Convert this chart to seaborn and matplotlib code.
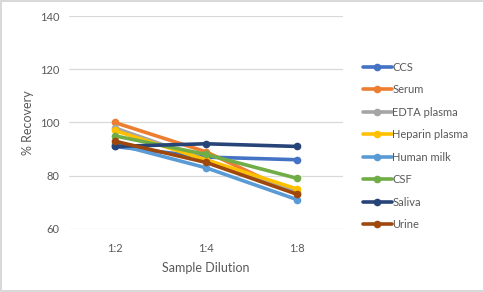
import matplotlib.pyplot as plt
import pandas as pd
import seaborn as sns

dilutions = ["1:2", "1:4", "1:8"]
samples = ["CCS", "Serum", "EDTA plasma", "Heparin plasma", "Human milk", "CSF", "Saliva", "Urine"]
ccs = [91, 87, 86]
serum = [100, 89, 73]
edta = [98, 86, 74]
heparin = [97, 86, 75]
milk = [92, 83, 71]
csf = [95, 88, 79]
saliva = [91, 92, 91]
urine = [93, 85, 73]
colors = ["#4472C4", "#ED7D31", "#A5A5A5", "#FFC000", "#5B9BD5", "#70AD47", "#264478", "#9E480E"]

values = [ccs, serum, edta, heparin, milk, csf, saliva, urine]
rows = []
for name, vals in zip(samples, values):
    for d, v in zip(dilutions, vals):
        rows.append({"Sample": name, "Dilution": d, "Recovery": v})
df = pd.DataFrame(rows)

sns.set_style("white")
plt.rcParams["font.family"] = ["Lato", "DejaVu Sans"]
txt = "#595959"

fig = plt.figure(figsize=(4.85, 2.92), dpi=100)
fig.patch.set_edgecolor("#D9D9D9")
fig.patch.set_linewidth(1.5)
ax = fig.add_axes([0.142, 0.216, 0.565, 0.729])
sns.lineplot(data=df, x="Dilution", y="Recovery", hue="Sample", hue_order=samples,
             palette=colors, marker="o", markersize=5.5, markeredgewidth=0,
             linewidth=2.6, sort=False, ax=ax)

ax.set_ylim(60, 140)
ax.set_yticks([60, 80, 100, 120, 140])
ax.set_xlim(-0.5, 2.5)
ax.yaxis.grid(True, color="#D9D9D9", linewidth=0.9)
ax.set_axisbelow(True)
for s in ax.spines.values():
    s.set_visible(False)
ax.tick_params(axis="y", colors=txt, labelsize=8, length=0, pad=7)
ax.tick_params(axis="x", colors=txt, labelsize=8, length=0, pad=10)
ax.set_xlabel("Sample Dilution", color=txt, fontsize=9, labelpad=6)
ax.set_ylabel("% Recovery", color=txt, fontsize=9, labelpad=4)

leg = ax.legend(loc="center left", bbox_to_anchor=(1.036, 0.39), frameon=False,
                fontsize=8, labelspacing=1.03, handlelength=2.6, handletextpad=0.05)
for t in leg.get_texts():
    t.set_color(txt)

fig.savefig("out.png", dpi=100, edgecolor=fig.get_edgecolor())
